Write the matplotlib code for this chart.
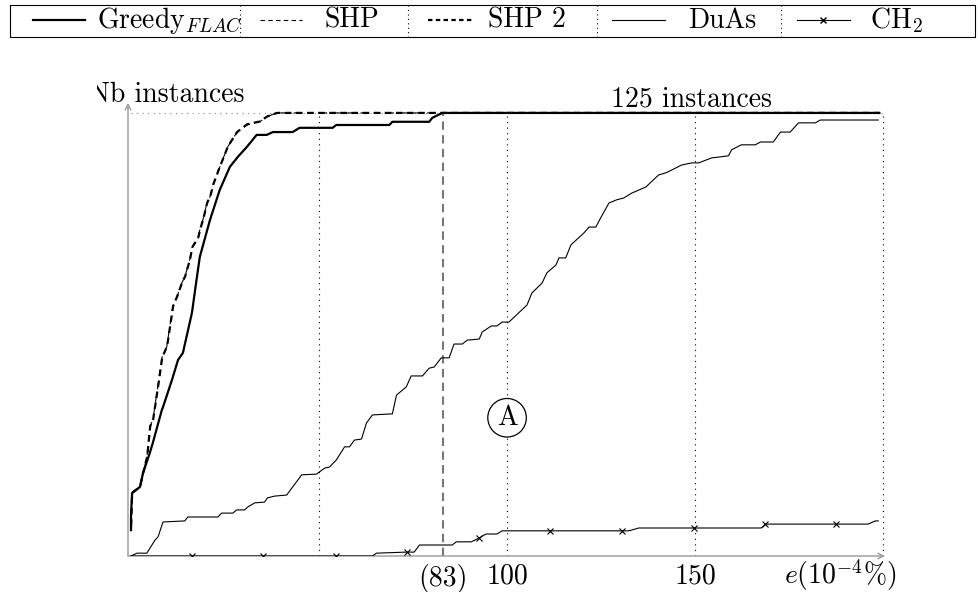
import numpy as np
import matplotlib
matplotlib.use("Agg")
import matplotlib.pyplot as plt
from matplotlib.lines import Line2D
from matplotlib.patches import Rectangle
from matplotlib.transforms import Bbox

plt.rcParams['font.family'] = ['cmr10', 'DejaVu Serif']
plt.rcParams['mathtext.fontset'] = 'cm'
plt.rcParams['axes.formatter.use_mathtext'] = True

# data (x in 1e-4 %, y = number of instances)
greedy_x = [0, 0, 0.3, 2.4, 3.2, 5.0, 5.8, 8.2, 8.5, 10.9, 12.5, 13.8, 16.2, 17.5, 18.3, 21.0,
            23.6, 26.3, 28.4, 30.8, 33.4, 36.1, 37.7, 43.0, 44.8, 53.6, 54.6, 68.7, 69.5,
            79.3, 80.1, 82.8, 199]
greedy_y = [7.3, 11.6, 17.8, 19.5, 23.4, 29.1, 31.9, 41.2, 42.0, 49.7, 55.3, 57.3, 68.6, 78.5,
            84.4, 94.8, 103.3, 109.8, 112.6, 115.4, 118.8, 118.8, 119.6, 119.6, 120.8, 120.8,
            121.6, 121.6, 122.5, 122.5, 123.6, 125, 125]

shp_x = [0, 0.3, 2.4, 3.2, 4.2, 5.0, 5.8, 7.2, 8.2, 9.5, 10.3, 11.1, 12.2, 13.5, 14.3, 15.6,
         16.2, 17.8, 18.3, 19.1, 20.2, 21.0, 21.8, 23.6, 25.7, 28.1, 30.8, 34.2, 36.1, 38.7, 199]
shp_y = [7.3, 17.8, 19.5, 23.4, 27.5, 36.4, 38.4, 48.3, 55.9, 59.0, 64.6, 70.3, 73.1, 77.0,
         78.7, 83.5, 86.9, 89.7, 92.0, 94.8, 99.6, 101.3, 104.7, 109.8, 115.4, 119.4, 121.6,
         122.5, 123.9, 125, 125]

shp2_x = [0, 0.3, 2.4, 3.2, 4.3, 5.1, 5.9, 7.3, 8.3, 9.6, 10.4, 11.2, 12.3, 13.6, 14.4, 15.7,
          16.3, 17.9, 18.4, 19.2, 20.3, 21.1, 21.9, 23.7, 25.8, 28.2, 30.9, 34.3, 36.2, 38.8, 199]
shp2_y = [7.3, 17.8, 19.5, 23.4, 28.0, 36.6, 38.6, 48.5, 56.0, 59.2, 64.8, 70.5, 73.3, 77.2,
          78.9, 83.7, 87.1, 89.9, 92.2, 95.0, 99.8, 101.5, 104.9, 110.0, 115.6, 119.6, 121.8,
          122.6, 124.0, 125, 125]

duas_x = [0, 1.6, 4.2, 6.4, 7.2, 8.5, 14.3, 15.1, 23.1, 24.1, 27.1, 28.1, 30.2, 31.0, 32.9,
          35.5, 36.3, 38.2, 41.4, 43.0, 45.4, 49.3, 51.5, 52.8, 54.6, 56.8, 58.1, 59.4, 61.3,
          62.6, 64.2, 69.5, 70.6, 73.2, 74.5, 77.5, 79.3, 80.6, 82.5, 84.6, 85.9, 88.1, 89.4,
          92.6, 93.4, 95.8, 97.3, 98.7, 100.5, 105.3, 106.6, 109.3, 110.6, 113.0, 113.8, 115.6,
          117.0, 120.4, 121.8, 123.6, 124.9, 127.1, 129.2, 131.0, 133.2, 134.5, 136.9, 140.3,
          142.2, 143.8, 146.4, 149.1, 150.9, 154.4, 158.9, 159.7, 162.3, 166.0, 167.4, 170.8,
          172.7, 175.3, 177.5, 182.0, 183.3, 198.7]
duas_y = [0, 0.8, 0.8, 4.5, 5.4, 9.6, 9.9, 11.0, 11.0, 12.1, 12.1, 13.0, 13.0, 13.8, 15.0,
          15.2, 16.4, 16.9, 17.2, 19.5, 22.9, 23.1, 24.8, 25.1, 27.1, 30.8, 30.8, 32.7, 33.0,
          37.5, 39.8, 40.1, 45.4, 47.7, 50.8, 50.8, 53.0, 53.3, 55.9, 55.9, 59.8, 59.8, 60.9,
          61.2, 63.2, 64.9, 64.9, 66.0, 66.0, 70.8, 74.2, 77.0, 79.9, 82.1, 84.1, 84.1,
          87.8, 91.1, 92.8, 92.8, 95.4, 99.6, 100.5, 101.0, 102.4, 103.0, 104.1, 107.5,
          108.1, 108.9, 110.3, 110.9, 110.9, 112.3, 112.9, 114.6, 116.0, 116.0, 116.8, 116.8,
          119.6, 119.6, 122.2, 122.2, 123.0, 123.0]

ch2_x = [0, 64.2, 65.3, 73.2, 75.3, 76.7, 85.4, 86.5, 90.5, 92.6, 94.4, 97.3, 98.7, 132.4,
         135.0, 167.6, 168.7, 196.0, 197.9, 198.7]
ch2_y = [0, 0, 0.8, 1.1, 1.1, 3.1, 3.1, 4.0, 4.0, 5.1, 6.2, 6.2, 7.1, 7.1, 7.9, 7.9, 9.0,
         9.0, 9.9, 9.9]
ch2_marks = [16.2, 35.0, 54.4, 73.5, 92.6, 111.4, 130.5, 149.6, 168.7, 187.5]

W, H = 979, 592
fig = plt.figure(figsize=(W / 100, H / 100), dpi=100)
ax = fig.add_axes([128 / W, (H - 556) / H, (885 - 128) / W, (556 - 103) / H])
ax.set_xlim(-0.8, 200.5)
ax.set_ylim(0, 127.8)
for s in ax.spines.values():
    s.set_visible(False)

# helper lines
for gx in [50, 100, 150, 200]:
    ax.plot([gx, gx], [0, 125], color='black', lw=0.8, ls=(0, (1, 4)), zorder=1)
ax.plot([0, 200], [125, 125], color='#888888', lw=0.8, ls=(0, (1, 4)), zorder=1)
ax.plot([83, 83], [0, 125], color='#777777', lw=1.5, ls=(0, (4, 2.6)), zorder=1)

# axis arrows
ax.annotate('', xy=(200.5, 0), xytext=(-0.8, 0),
            arrowprops=dict(arrowstyle='->', color='#999999', lw=1.0, shrinkA=0, shrinkB=0))
ax.annotate('', xy=(-0.8, 127.8), xytext=(-0.8, 0),
            arrowprops=dict(arrowstyle='->', color='#999999', lw=1.0, shrinkA=0, shrinkB=0))

ax.plot(duas_x, duas_y, color='black', lw=0.8, zorder=3)
ax.plot(ch2_x, ch2_y, color='black', lw=0.8, zorder=3)
ax.plot(ch2_marks, np.interp(ch2_marks, ch2_x, ch2_y), ls='none', marker='x',
        color='black', ms=4, mew=0.8, zorder=3)
ax.plot(shp_x, shp_y, color='black', lw=0.8, ls=(0, (6, 6)), zorder=4)
ax.plot(shp2_x, shp2_y, color='black', lw=1.6, ls=(3, (3, 2)), zorder=4)
ax.plot(greedy_x, greedy_y, color='black', lw=1.6, zorder=5)

ax.text(149, 126.7, '125 instances', fontsize=20, ha='center', va='baseline')
ax.text(100, 39, 'A', fontsize=20, ha='center', va='center', zorder=6,
        bbox=dict(boxstyle='circle,pad=0.22', fc='white', ec='black', lw=0.9))

ax.set_xticks([83, 100, 150])
ax.set_xticklabels(['(83)', '100', '150'], fontsize=20)
ax.set_yticks([])
ax.tick_params(axis='x', length=0, pad=5.5)
ax.text(188.5, -0.061, r'$e(10^{-4}\%)$', transform=ax.get_xaxis_transform(),
        fontsize=20, ha='center', va='baseline')

nb = fig.text(245 / W, (H - 102) / H, 'Nb instances', fontsize=20, ha='right', va='baseline')
nb.set_clip_box(Bbox.from_extents(97, 0, W, H))
nb.set_clip_on(True)

# legend box drawn by hand (pgfplots style with dotted separators)
def fx(px):
    return px / W

def fy(py):
    return (H - py) / H

fig.patches.append(Rectangle((fx(10), fy(37)), fx(975) - fx(10), fy(5) - fy(37),
                             transform=fig.transFigure, fill=False, ec='black', lw=0.8))
for sx in [240, 408, 597, 781]:
    fig.lines.append(Line2D([fx(sx), fx(sx)], [fy(5), fy(37)], transform=fig.transFigure,
                            color='black', lw=0.8, ls=(0, (1, 3))))
ly = fy(20)
legend_items = [
    (33, 85, dict(color='black', lw=1.6), 97, r'Greedy$_{FLAC}$'),
    (260, 302, dict(color='black', lw=0.8, ls=(0, (4, 3))), 324, 'SHP'),
    (428, 472, dict(color='black', lw=1.6, ls=(0, (2, 1.5))), 488, 'SHP 2'),
    (612, 665, dict(color='black', lw=0.8), 688, 'DuAs'),
    (797, 850, dict(color='black', lw=0.8, marker='x', ms=4, markevery=[1]), 870, r'CH$_2$'),
]
for x0, x1, style, tx, label in legend_items:
    if 'markevery' in style:
        xs = [fx(x0), fx((x0 + x1) / 2), fx(x1)]
        ys = [ly, ly, ly]
    else:
        xs = [fx(x0), fx(x1)]
        ys = [ly, ly]
    fig.lines.append(Line2D(xs, ys, transform=fig.transFigure, **style))
    fig.text(fx(tx), fy(28), label, fontsize=20, ha='left', va='baseline')

fig.savefig('out.png', dpi=100)
